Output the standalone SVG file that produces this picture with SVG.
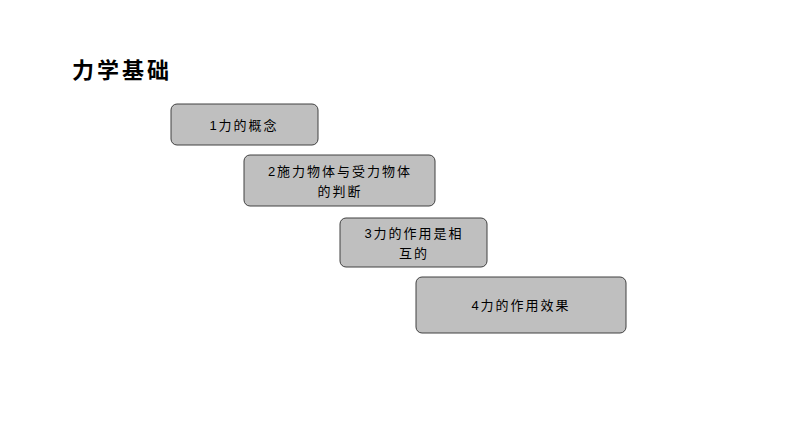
<svg xmlns="http://www.w3.org/2000/svg" width="794" height="447" viewBox="0 0 794 447">
<style>
.b{fill:#bfbfbf;stroke:#404040;stroke-width:1}
.t{font-family:"Liberation Sans","Noto Sans CJK SC",sans-serif;font-size:13px;fill:#000;text-anchor:middle;letter-spacing:2px}
.h{font-family:"Noto Sans CJK SC",sans-serif;font-size:22px;font-weight:bold;letter-spacing:3px}
</style>
<rect width="794" height="447" fill="#fff"/>
<text class="h" x="72" y="78">力学基础</text>
<g id="n1"><rect class="b" x="171" y="104" width="147" height="41" rx="6"/><text class="t" x="244" y="130">1力的概念</text></g>
<g id="n2"><rect class="b" x="244" y="155" width="191" height="51" rx="6"/><text class="t" x="340" y="176">2施力物体与受力物体</text><text class="t" x="340" y="196">的判断</text></g>
<g id="n3"><rect class="b" x="340" y="218" width="147" height="49" rx="6"/><text class="t" x="414" y="238">3力的作用是相</text><text class="t" x="414" y="258">互的</text></g>
<g id="n4"><rect class="b" x="416" y="277" width="210" height="56" rx="6"/><text class="t" x="521" y="310">4力的作用效果</text></g>
<g id="connectors"/>
</svg>
